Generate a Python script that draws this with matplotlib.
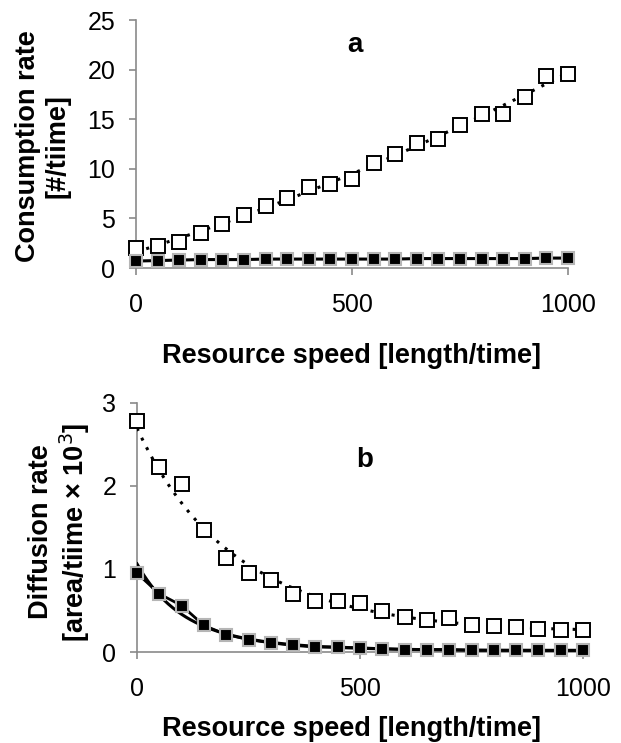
import numpy as np
import matplotlib
matplotlib.use("Agg")
import matplotlib.pyplot as plt

plt.rcParams['font.family'] = ['Liberation Sans', 'DejaVu Sans']

speed = [0, 50, 100, 150, 200, 250, 300, 350, 400, 450, 500,
         550, 600, 650, 700, 750, 800, 850, 900, 950, 1000]

cons_open = [2.0, 2.2, 2.6, 3.5, 4.4, 5.3, 6.2, 7.1, 8.2, 8.5, 9.0,
             10.6, 11.5, 12.6, 13.0, 14.4, 15.5, 15.5, 17.2, 19.4, 19.6]
cons_filled = [0.7, 0.75, 0.8, 0.85, 0.85, 0.85, 0.9, 0.9, 0.9, 0.9, 0.9,
               0.9, 0.9, 0.95, 0.95, 0.95, 0.95, 0.95, 0.95, 1.0, 1.0]

diff_open = [2.78, 2.23, 2.03, 1.47, 1.13, 0.95, 0.87, 0.70, 0.61, 0.62, 0.59,
             0.49, 0.42, 0.38, 0.41, 0.33, 0.31, 0.30, 0.28, 0.26, 0.27]
diff_filled = [0.95, 0.70, 0.56, 0.32, 0.21, 0.15, 0.11, 0.08, 0.06, 0.06, 0.05,
               0.04, 0.03, 0.03, 0.03, 0.02, 0.02, 0.02, 0.02, 0.02, 0.02]

x = np.array(speed, dtype=float)
xs = np.linspace(0, 1000, 400)

fig = plt.figure(figsize=(6.21, 7.43), dpi=100)
W, H = 621, 743

def px_axes(l, r, t, b):
    return fig.add_axes([l / W, 1 - b / H, (r - l) / W, (b - t) / H])

axa = px_axes(136, 568, 20, 268)
axb = px_axes(137, 583, 403, 652)

spine_c = '#8a8a8a'
for ax in (axa, axb):
    for s in ('top', 'right'):
        ax.spines[s].set_visible(False)
    for s in ('left', 'bottom'):
        ax.spines[s].set_color(spine_c)
        ax.spines[s].set_linewidth(1.2)
    ax.tick_params(direction='out', length=5, width=1.2, color=spine_c,
                   labelsize=18)
    ax.tick_params(axis='y', pad=10)
    ax.tick_params(axis='x', pad=13)
    ax.set_xlim(0, 1000)
    ax.set_xticks([0, 500, 1000])

open_kw = dict(marker='s', ms=10, mfc='white', mec='black', mew=1.4,
               linestyle='none', clip_on=False, zorder=4)
fill_kw = dict(marker='s', ms=9, mfc='black', mec='#b5b5b5', mew=1.5,
               clip_on=False, zorder=5)
dot = (0, (1, 2.5))

# Panel a
pa_o = np.polyfit(x, cons_open, 2)
axa.plot(xs, np.polyval(pa_o, xs), color='black', ls=dot, lw=2.2, zorder=3)
axa.plot(x, cons_filled, color='black', lw=2.2, **fill_kw)
axa.plot(x, cons_open, **open_kw)
axa.set_ylim(0, 25)
axa.set_yticks([0, 5, 10, 15, 20, 25])

# Panel b
pb_o = np.polyfit(x, np.log(diff_open), 2)
pb_f = np.polyfit(x, np.log(diff_filled), 3)
axb.plot(xs, np.exp(np.polyval(pb_o, xs)), color='black', ls=dot, lw=2.2, zorder=3)
axb.plot(xs, np.exp(np.polyval(pb_f, xs)), color='black', lw=2.2, zorder=3)
axb.plot(x, diff_filled, color='black', lw=2.0, **fill_kw)
axb.plot(x, diff_open, **open_kw)
axb.set_ylim(0, 3)
axb.set_yticks([0, 1, 2, 3])

# Titles
fig.text(355 / W, 1 - 45 / H, 'a', fontsize=20, fontweight='bold', ha='center', va='center')
fig.text(365 / W, 1 - 460 / H, 'b', fontsize=20, fontweight='bold', ha='center', va='center')

# Axis labels
fig.text(351 / W, 1 - 363 / H, 'Resource speed [length/time]', fontsize=19.5,
         fontweight='bold', ha='center', va='baseline')
fig.text(351 / W, 1 - 736 / H, 'Resource speed [length/time]', fontsize=19.5,
         fontweight='bold', ha='center', va='baseline')
fig.text(43 / W, 1 - 146 / H, 'Consumption rate\n[#/tiime]', fontsize=19.5,
         fontweight='bold', ha='center', va='center', rotation=90,
         multialignment='center', linespacing=1.2)
fig.text(60 / W, 1 - 532 / H, 'Diffusion rate\n[area/tiime × 10$^3$]', fontsize=19.5,
         fontweight='bold', ha='center', va='center', rotation=90,
         multialignment='center', linespacing=1.1)

fig.savefig('out.png', dpi=100)
